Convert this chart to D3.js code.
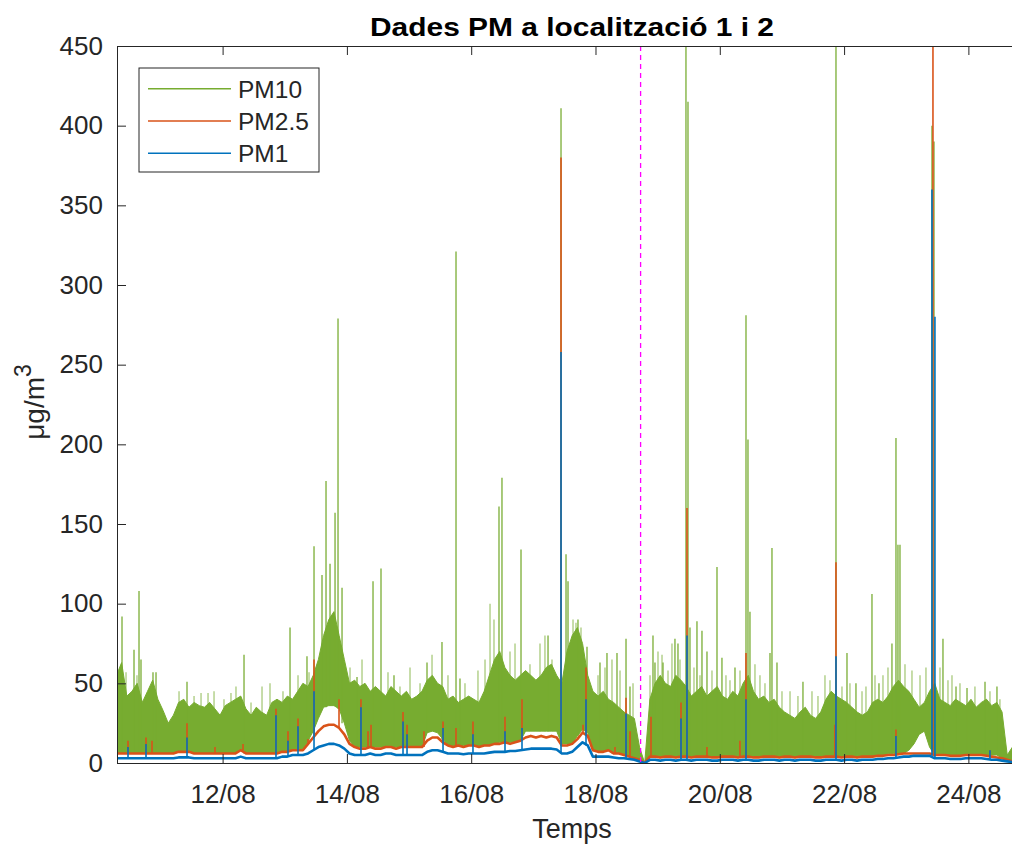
<!DOCTYPE html>
<html><head><meta charset="utf-8">
<script src="https://cdn.jsdelivr.net/npm/d3@7"></script>
<style>
body{margin:0;background:#fff}
svg{display:block}
text{font-family:"Liberation Sans",Arial,Helvetica,sans-serif;fill:#262626}
</style>
</head><body>
<svg id="chart" width="1012" height="847"></svg>
<script>
// ---------- DATA ----------
const chartTitle = "Dades PM a localització 1 i 2";
const xAxisTitle = "Temps";
const seriesNames = ["PM10", "PM2.5", "PM1"];
const seriesStart = "10/08 07:00";   // first sample of the 2-hourly envelopes
const stepHours = 2;
const axisStart = "10/08 07:13";
const axisEnd = "24/08 22:38";
const markerTime = "18/08 17:25";     // dashed line: change of location
const xTickLabels = ["12/08", "14/08", "16/08", "18/08", "20/08", "22/08", "24/08"];
const yTicks = [0, 50, 100, 150, 200, 250, 300, 350, 400, 450];

// PM10: upper edge of the dense band (2-hourly)
const pm10High = [
 55,63,42,45,50,38,45,52,40,33,
 25,30,38,40,35,38,36,35,38,34,
 30,36,38,40,42,34,30,35,32,30,
 38,40,38,42,40,45,50,48,55,65,
 80,90,95,80,65,50,52,48,50,45,
 48,45,42,48,45,42,45,40,42,45,
 52,55,50,48,40,42,38,40,42,40,
 38,45,55,65,70,60,55,52,55,58,
 55,52,55,60,62,55,50,70,80,85,
 75,55,45,42,45,40,38,35,32,30,
 28,10,0,40,50,55,50,48,55,52,
 48,42,45,48,42,45,48,42,40,45,
 42,50,55,45,40,42,38,40,35,32,
 30,28,32,35,30,28,32,40,45,42,
 40,38,35,32,30,32,38,40,38,42,
 48,52,48,45,40,35,38,45,50,40,
 38,36,40,38,36,40,35,38,40,36,
 38,32,5,10,14,15,15];
// PM10: lower edge of the dense band (2-hourly)
const pm10Low = [
 6,6,6,6,6,6,6,6,6,6,
 6,6,7,7,7,6,6,6,6,6,
 6,6,6,6,8,6,6,6,6,6,
 6,6,7,7,8,8,8,14,20,28,
 35,36,36,34,25,14,10,10,10,10,
 10,10,10,10,10,10,10,10,10,10,
 19,20,19,15,11,11,11,11,11,11,
 11,11,11,12,13,13,13,13,14,20,
 20,20,20,20,20,20,12,12,12,17,
 21,19,8,7,7,8,6,6,5,4,
 3,2,0,4,4,4,4,4,4,4,
 4,4,4,4,4,4,4,4,4,4,
 4,4,4,4,4,4,4,4,4,4,
 4,4,4,4,4,4,4,4,4,4,
 4,4,4,4,4,4,4,4,4,6,
 6,6,6,8,12,18,20,10,5,5,
 5,5,5,5,5,5,5,5,5,5,
 5,3,2,1,1,1,1];
// PM2.5 (2-hourly)
const pm25 = [
 6,6,6,6,6,6,6,6,6,6,
 6,6,7,7,7,6,6,6,6,6,
 6,6,6,6,8,6,6,6,6,6,
 6,6,7,7,8,8,8,12,16,20,
 23,24,24,22,18,12,10,9,9,10,
 9,9,10,10,9,10,10,10,10,10,
 14,16,16,13,11,10,11,10,11,11,
 10,11,11,12,12,13,12,13,14,16,
 17,16,17,16,17,16,11,11,12,15,
 19,17,8,7,7,8,6,6,5,4,
 3,2,0,4,4,3.5,4,4,3.5,4,
 4,3.5,4,4,4,3.5,3.5,4,4,4,
 3.5,4,4,3.5,3.5,4,4,4,3.5,4,
 4,3.5,4,4,4,3.5,3.5,4,4,4,
 3.5,4,4,3.5,4,4,4,4.5,4.5,5,
 5,5.5,6,6,6,6,6,6,5,5,
 5,4.5,4.5,4.5,5,5,5,5,4.5,4,
 3.5,3,2,1,0.5,0.5,0.5];
// PM1 (2-hourly)
const pm1 = [
 3,3,3,3,3,3,3,3,3,3,
 3,3,3.5,3.5,3.5,3,3,3,3,3,
 3,3,3,3,4,3,3,3,3,3,
 3,3,4,4,5,5,5,6,8,10,
 11,12,12,11,9,6,5,5,5,6,
 5,5,6,6,5,5,5,5,5,5,
 7,8,8,7,6,6,6,5.5,6,6,
 6,6,6.5,7,7,7,7.5,7.5,8,8.5,
 9,9,9,9,9,8.5,6,6,7,10,
 13,11,4,4,4,4,3.5,3,3,2.5,
 2,1,0,2,2,1.5,2,2,1.5,2,
 2,1.5,2,2,2,1.5,1.5,2,2,2,
 1.5,2,2,1.5,1.5,2,2,2,1.5,2,
 2,1.5,2,2,2,1.5,1.5,2,2,2,
 1.5,2,2,1.5,2,2,2,2.5,2.5,3,
 3,3.5,4,4,4.5,4.5,4.5,4.5,3,3,
 3,2.5,2.5,2.5,3,3,3,3,2.5,2,
 2,1.5,1,0.5,0.3,0.3,0.3];

// Isolated peaks
const pm10SpikeTimes = ["10/08 09:09","10/08 13:47","10/08 15:43","10/08 16:29","10/08 21:07","10/08 22:17","11/08 10:15","12/08 08:16","13/08 02:02","13/08 08:35","13/08 11:18","13/08 14:23","13/08 15:56","13/08 17:29","13/08 19:25","13/08 20:34","13/08 22:07","14/08 03:54","14/08 10:05","14/08 13:10","14/08 18:11","15/08 06:56","15/08 12:43","15/08 18:08","15/08 19:40","16/08 10:44","16/08 11:53","16/08 19:14","17/08 05:40","17/08 10:41","17/08 12:37","17/08 13:23","17/08 17:14","17/08 20:43","18/08 01:44","18/08 04:26","18/08 08:18","18/08 11:47","18/08 13:19","18/08 22:12","18/08 22:58","19/08 02:04","19/08 06:41","19/08 07:51","19/08 10:56","19/08 11:43","19/08 12:29","19/08 15:11","19/08 17:07","19/08 19:03","19/08 22:55","20/08 00:50","20/08 05:52","20/08 10:07","20/08 10:53","20/08 11:39","20/08 19:23","20/08 20:09","20/08 22:05","21/08 08:07","21/08 20:52","22/08 01:07","22/08 04:35","22/08 10:46","22/08 13:28","22/08 18:29","22/08 20:02","22/08 20:48","22/08 21:35","23/08 09:56","23/08 10:43","23/08 14:11","23/08 19:13","23/08 23:28","24/08 06:25","24/08 11:02"];
const pm10SpikeValues = [92,71,108,65,57,57,51,68,85,67,136,118,177,125,157,279,110,54,114,122,55,63,76,321,53,161,179,134,80,411,131,114,90,73,63,69,69,78,48,80,63,63,78,75,470,415,85,89,83,70,123,66,60,281,203,95,69,135,63,51,470,69,50,106,50,75,204,137,137,400,390,78,48,47,51,48];

// Smaller hair-like peaks above the dense PM10 band
const pm10HairTimes = ["10/08 10:42","10/08 12:38","10/08 14:56","10/08 19:11","11/08 07:10","11/08 12:58","11/08 15:40","11/08 18:22","11/08 20:41","12/08 00:32","12/08 03:14","12/08 05:10","12/08 10:58","12/08 15:13","12/08 18:18","12/08 23:19","13/08 05:07","13/08 09:22","14/08 01:12","14/08 05:50","14/08 15:52","14/08 20:30","15/08 00:22","15/08 04:14","15/08 08:52","15/08 15:02","15/08 21:36","16/08 02:37","16/08 05:20","16/08 07:16","16/08 08:48","16/08 14:59","16/08 16:55","16/08 22:42","17/08 02:34","17/08 04:29","17/08 07:12","17/08 15:19","17/08 16:28","17/08 18:24","18/08 00:58","18/08 03:40","18/08 06:22","18/08 09:28","18/08 14:29","18/08 21:03","19/08 00:08","19/08 01:41","19/08 04:00","19/08 05:32","19/08 08:38","19/08 14:02","19/08 16:21","19/08 20:59","20/08 02:23","20/08 03:56","20/08 07:48","20/08 13:35","20/08 15:31","20/08 17:27","21/08 00:01","21/08 03:07","21/08 06:11","21/08 11:36","21/08 13:55","21/08 16:37","21/08 18:33","21/08 23:11","22/08 02:16","22/08 06:55","22/08 08:27","22/08 11:56","22/08 15:01","22/08 16:57","22/08 23:31","23/08 02:13","23/08 05:19","23/08 07:37","23/08 13:02","23/08 16:07","23/08 17:40","23/08 20:45","24/08 02:32","24/08 08:20","24/08 12:11"];
const pm10HairValues = [57,43,55,38,45,42,44,44,45,40,44,48,38,48,50,45,55,57,60,65,57,48,60,50,68,55,50,58,65,100,90,70,75,62,75,80,65,90,88,85,55,60,65,58,50,55,70,68,58,75,65,60,55,58,55,52,58,62,55,50,45,45,42,45,42,55,52,48,50,45,48,55,55,60,62,58,55,60,60,52,55,50,48,45,40];

const pm25SpikeTimes = ["10/08 11:28","10/08 18:25","10/08 20:44","11/08 10:15","11/08 21:04","12/08 07:53","12/08 20:37","13/08 01:15","13/08 05:07","13/08 08:59","13/08 11:18","13/08 20:57","14/08 05:26","14/08 08:09","14/08 09:19","14/08 21:40","14/08 23:13","15/08 05:46","15/08 13:07","15/08 18:08","16/08 00:41","16/08 13:03","16/08 19:37","17/08 10:41","17/08 19:11","17/08 20:20","18/08 07:32","18/08 11:47","18/08 13:19","18/08 21:26","19/08 09:01","19/08 11:20","19/08 19:03","20/08 07:47","20/08 10:07","21/08 20:28","21/08 20:52","22/08 20:02","23/08 10:19","24/08 08:20"];
const pm25SpikeValues = [14,16,14,25,10,12,34,20,28,15,65,40,40,20,24,32,24,20,26,22,26,29,40,380,24,60,10,41,20,29,38,160,10,14,69,24,126,21,460,8];

const pm1SpikeTimes = ["10/08 11:28","10/08 18:25","11/08 10:15","12/08 20:37","13/08 01:15","13/08 05:07","13/08 11:18","14/08 05:26","14/08 21:40","14/08 23:13","15/08 13:07","16/08 00:41","16/08 13:03","16/08 19:37","17/08 10:41","17/08 20:20","18/08 11:47","19/08 09:01","19/08 11:20","20/08 10:07","21/08 20:52","22/08 20:02","23/08 09:56","23/08 11:05","24/08 08:20"];
const pm1SpikeValues = [10,12,16,30,14,23,45,35,26,18,22,18,20,22,258,40,31,28,80,40,67,17,360,280,8];

// ---------- LAYOUT ----------
const colors = {pm10: "#77AC30", pm25: "#D95319", pm1: "#0072BD", axis: "#262626", marker: "#FF00FF"};
const plotL = 117, plotR = 1027, plotT = 46, plotB = 763;

const parseT = d3.timeParse("%d/%m %H:%M");
const parseD = d3.timeParse("%d/%m");
const svg = d3.select("#chart");

const x = d3.scaleTime().domain([parseT(axisStart), parseT(axisEnd)]).range([plotL, plotR]);
const y = d3.scaleLinear().domain([0, 450]).range([plotB, plotT]);

const t0 = parseT(seriesStart);
const times = pm25.map((_, i) => d3.timeHour.offset(t0, i * stepHours));
const idxOf = t => Math.max(0, Math.min(times.length - 1, Math.round((t - t0) / (stepHours * 3600e3))));

svg.append("defs").append("clipPath").attr("id", "plotClip")
  .append("rect").attr("x", plotL).attr("y", plotT).attr("width", plotR - plotL).attr("height", plotB - plotT);

const plot = svg.append("g").attr("clip-path", "url(#plotClip)");

function drawSpikes(tArr, vArr, base, color, w, op) {
  plot.append("g").attr("opacity", op || 1).selectAll("line")
    .data(tArr.map((s, i) => ({t: parseT(s), v: vArr[i]})))
    .join("line")
    .attr("x1", d => x(d.t)).attr("x2", d => x(d.t))
    .attr("y1", d => y(base[idxOf(d.t)]))
    .attr("y2", d => y(d.v))
    .attr("stroke", color).attr("stroke-width", w);
}

// PM10 hair (behind band) + band
drawSpikes(pm10HairTimes, pm10HairValues, pm10Low, colors.pm10, 1.1, 0.75);
plot.append("path")
  .datum(times.map((t, i) => ({t, lo: pm10Low[i], hi: pm10High[i]})))
  .attr("fill", colors.pm10)
  .attr("stroke", colors.pm10).attr("stroke-width", 1)
  .attr("d", d3.area().x(d => x(d.t)).y0(d => y(d.lo)).y1(d => y(d.hi)));
drawSpikes(pm10SpikeTimes, pm10SpikeValues, pm10Low, colors.pm10, 1.4, 0.9);

const line = d3.line().x(d => x(d.t)).y(d => y(d.v));
plot.append("path").datum(times.map((t, i) => ({t, v: pm25[i]})))
  .attr("fill", "none").attr("stroke", colors.pm25).attr("stroke-width", 2.6)
  .attr("stroke-linejoin", "round").attr("d", line);
drawSpikes(pm25SpikeTimes, pm25SpikeValues, pm25, colors.pm25, 1.6);

plot.append("path").datum(times.map((t, i) => ({t, v: pm1[i]})))
  .attr("fill", "none").attr("stroke", colors.pm1).attr("stroke-width", 2.6)
  .attr("stroke-linejoin", "round").attr("d", line);
drawSpikes(pm1SpikeTimes, pm1SpikeValues, pm1, colors.pm1, 1.6);

// marker
plot.append("line")
  .attr("x1", x(parseT(markerTime))).attr("x2", x(parseT(markerTime)))
  .attr("y1", plotT).attr("y2", plotB)
  .attr("stroke", colors.marker).attr("stroke-width", 1.3).attr("stroke-dasharray", "5,4");

// ---------- AXES ----------
const xTicks = xTickLabels.map(s => parseD(s));
function styleAxis(g) {
  g.attr("font-family", null).attr("font-size", null);
  g.selectAll(".domain").attr("stroke", colors.axis).attr("stroke-width", 1);
  g.selectAll(".tick line").attr("stroke", colors.axis).attr("stroke-width", 1);
  g.selectAll("text").attr("fill", colors.axis)
    .style("font-family", '"Liberation Sans",Arial,sans-serif').style("font-size", "26px");
}
const gx = svg.append("g").attr("transform", `translate(0,${plotB})`)
  .call(d3.axisBottom(x).tickValues(xTicks).tickFormat((d, i) => xTickLabels[i])
    .tickSizeInner(-9).tickSizeOuter(0).tickPadding(22));
styleAxis(gx);
const gxTop = svg.append("g").attr("transform", `translate(0,${plotT})`)
  .call(d3.axisTop(x).tickValues(xTicks).tickFormat("").tickSizeInner(-9).tickSizeOuter(0));
styleAxis(gxTop);
const gy = svg.append("g").attr("transform", `translate(${plotL},0)`)
  .call(d3.axisLeft(y).tickValues(yTicks).tickFormat(d3.format("d"))
    .tickSizeInner(-9).tickSizeOuter(0).tickPadding(14));
styleAxis(gy);

// ---------- TEXTS ----------
svg.append("text").attr("x", (plotL + plotR) / 2).attr("y", 36)
  .attr("text-anchor", "middle").style("font-size", "26px").style("font-weight", "bold")
  .style("fill", "#000").attr("textLength", 404).attr("lengthAdjust", "spacingAndGlyphs")
  .text(chartTitle);

svg.append("text").attr("x", (plotL + plotR) / 2).attr("y", 838)
  .attr("text-anchor", "middle").style("font-size", "27px").text(xAxisTitle);

const yl = svg.append("text").attr("transform", "translate(44,402) rotate(-90)")
  .attr("text-anchor", "middle").style("font-size", "28px");
yl.append("tspan").text("μg/m");
yl.append("tspan").attr("dy", -13).style("font-size", "23px").text("3");

// ---------- LEGEND ----------
const lg = svg.append("g");
lg.append("rect").attr("x", 139).attr("y", 68).attr("width", 180).attr("height", 104)
  .attr("fill", "#fff").attr("stroke", colors.axis).attr("stroke-width", 1);
const legColors = [colors.pm10, colors.pm25, colors.pm1];
const legY = d3.scalePoint().domain(seriesNames).range([88.7, 153.3]);
seriesNames.forEach((n, i) => {
  lg.append("line").attr("x1", 148).attr("x2", 231).attr("y1", legY(n)).attr("y2", legY(n))
    .attr("stroke", legColors[i]).attr("stroke-width", 1.5);
  lg.append("text").attr("x", 238).attr("y", legY(n)).attr("dy", "0.36em")
    .style("font-size", "24.5px").text(n);
});
</script>
</body></html>
